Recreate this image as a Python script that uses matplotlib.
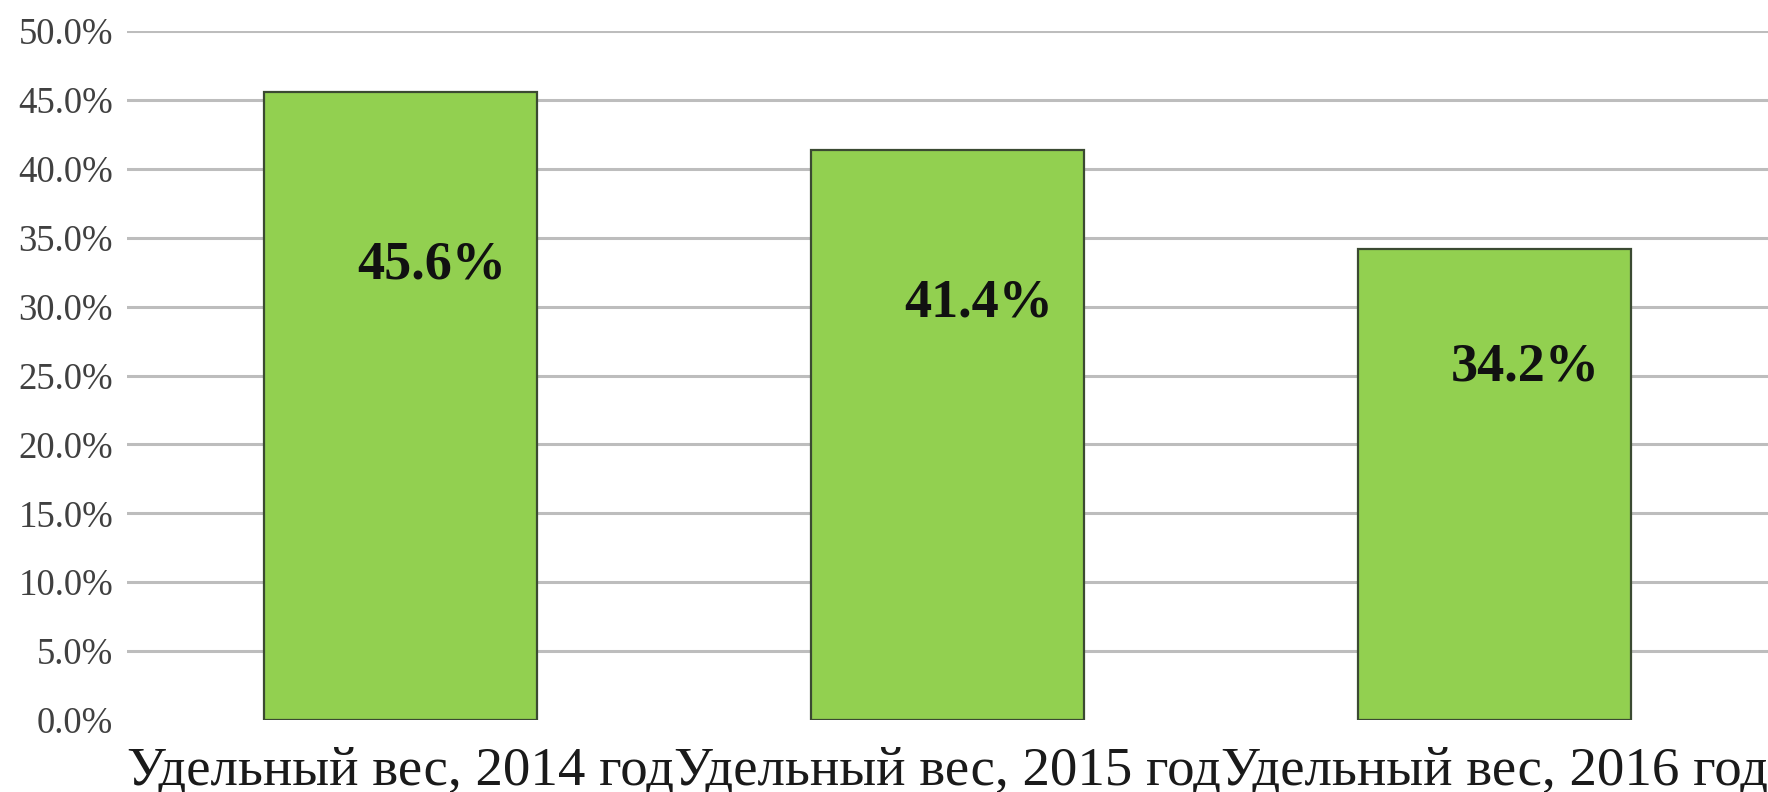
import matplotlib
matplotlib.use("Agg")
import matplotlib.pyplot as plt
from matplotlib.ticker import FuncFormatter

categories = ["Удельный вес, 2014 год", "Удельный вес, 2015 год", "Удельный вес, 2016 год"]
shares = [45.6, 41.4, 34.2]
y_ticks = [0, 5, 10, 15, 20, 25, 30, 35, 40, 45, 50]

plt.rcParams["font.family"] = ["Liberation Serif", "DejaVu Serif"]

W, H, DPI = 1768, 792, 100
fig = plt.figure(figsize=(W / DPI, H / DPI), dpi=DPI)
ax = fig.add_axes([127 / W, (H - 720) / H, (W - 127) / W, (720 - 31) / H])

x = list(range(len(categories)))
for y in y_ticks[1:]:
    ax.axhline(y, color="#bdbdbd", linewidth=2.2, zorder=0)

ax.bar(x, shares, width=0.5, color="#92d050", edgecolor="#3b4a32",
       linewidth=1.6, zorder=2)

# labels sit inside the bar, a bit right of centre and below the top
for xi, v in zip(x, shares):
    ax.text(xi + 0.057, 0.645 * v + 3.55, f"{v:.1f}%", ha="center", va="center",
            fontsize=39, fontweight="bold", color="#111111", zorder=3)

ax.set_xlim(-0.5, 2.5)
ax.set_ylim(0, 50)
ax.set_yticks(y_ticks)
ax.yaxis.set_major_formatter(FuncFormatter(lambda v, _: f"{v:.1f}%"))
ax.set_xticks(x)
ax.set_xticklabels(categories)
ax.tick_params(axis="y", length=0, pad=10, labelsize=26.5, labelcolor="#404040")
ax.tick_params(axis="x", length=0, pad=19, labelsize=39.5, labelcolor="#1a1a1a")
for s in ax.spines.values():
    s.set_visible(False)

fig.savefig("out.png", dpi=DPI)
